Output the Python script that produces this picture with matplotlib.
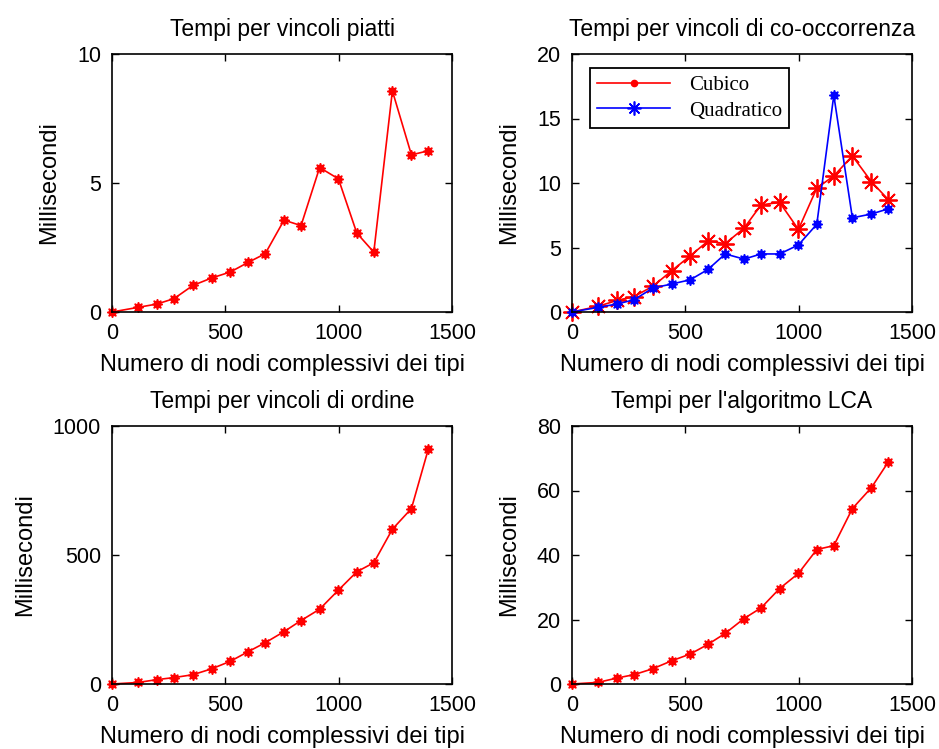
import matplotlib
matplotlib.use('Agg')
import matplotlib.pyplot as plt
from matplotlib.lines import Line2D

plt.rcParams['font.family'] = ['Liberation Sans', 'DejaVu Sans']

# x values (numero di nodi)
nodi = [0, 115, 199, 274, 357, 440, 522, 600, 676, 759, 834, 916, 999,
        1080, 1155, 1237, 1321, 1396]

piatti = [0, 0.18, 0.31, 0.52, 1.03, 1.32, 1.55, 1.92, 2.26, 3.56, 3.35,
          5.6, 5.16, 3.06, 2.32, 8.57, 6.09, 6.25]

cooc_cubico = [0, 0.44, 0.9, 1.2, 2.0, 3.2, 4.36, 5.5, 5.3, 6.5, 8.3, 8.5,
               6.4, 9.6, 10.55, 12.1, 10.1, 8.7]
cooc_quadratico = [0, 0.36, 0.62, 0.95, 1.86, 2.17, 2.5, 3.3, 4.5, 4.1, 4.5,
                   4.5, 5.2, 6.8, 16.8, 7.3, 7.6, 8.0]

ordine = [0, 6, 17, 25, 36, 59, 88, 125, 160, 203, 246, 290, 364, 435, 470,
          600, 680, 912]

lca = [0, 0.5, 1.86, 2.9, 4.75, 7.2, 9.3, 12.3, 15.7, 20.3, 23.6, 29.6, 34.3,
       41.7, 42.9, 54.4, 60.9, 68.9]

W, H = 939, 749
fig = plt.figure(figsize=(W / 100, H / 100), dpi=100)


def make_ax(x0, y0, x1, y1):
    # pixel box -> figure fraction
    return fig.add_axes([x0 / W, 1 - y1 / H, (x1 - x0) / W, (y1 - y0) / H])


ax1 = make_ax(112, 54, 452, 312)
ax2 = make_ax(572, 54, 912, 312)
ax3 = make_ax(112, 426, 452, 684)
ax4 = make_ax(572, 426, 912, 684)

small_mk = dict(marker=(8, 1, 0), markersize=7.5, linewidth=1.2)
title_kw = dict(fontsize=16.5, pad=13)

ax1.plot(nodi, piatti, color='#ff0000', **small_mk)
ax1.set_ylim(0, 10)
ax1.set_yticks([0, 5, 10])
ax1.set_title('Tempi per vincoli piatti', **title_kw)

ax2.plot(nodi, cooc_cubico, color='#ff0000', marker=(8, 2, 0), markersize=13,
         markeredgewidth=1.3, linewidth=1.2)
ax2.plot(nodi, cooc_quadratico, color='#0000ff', **small_mk)
ax2.set_ylim(0, 20)
ax2.set_yticks([0, 5, 10, 15, 20])
ax2.set_title('Tempi per vincoli di co-occorrenza', **title_kw)
handles = [Line2D([], [], color='#ff0000', marker='.', markersize=9, linewidth=1.2),
           Line2D([], [], color='#0000ff', marker=(8, 2, 0), markersize=10,
                  markeredgewidth=1.2, linewidth=1.2)]
leg = ax2.legend(handles, ['Cubico', 'Quadratico'], loc='upper left',
                 bbox_to_anchor=(0.053, 0.946), fancybox=False, framealpha=1,
                 edgecolor='black', prop={'family': 'Liberation Serif', 'size': 15},
                 handlelength=3.5, borderpad=0.35, labelspacing=0.3,
                 handletextpad=0.9, borderaxespad=0)
leg.get_frame().set_linewidth(1.3)

ax3.plot(nodi, ordine, color='#ff0000', **small_mk)
ax3.set_ylim(0, 1000)
ax3.set_yticks([0, 500, 1000])
ax3.set_title('Tempi per vincoli di ordine', **title_kw)

ax4.plot(nodi, lca, color='#ff0000', **small_mk)
ax4.set_ylim(0, 80)
ax4.set_yticks([0, 20, 40, 60, 80])
ax4.set_title("Tempi per l'algoritmo LCA", **title_kw)

for ax in (ax1, ax2, ax3, ax4):
    ax.set_xlim(0, 1500)
    ax.set_xticks([0, 500, 1000, 1500])
    ax.tick_params(direction='in', top=True, right=True, labelsize=15.5,
                   length=5, width=1, pad=8)
    for sp in ax.spines.values():
        sp.set_linewidth(1.2)
    ax.set_xlabel('Numero di nodi complessivi dei tipi', fontsize=17, labelpad=7)
    ax.set_ylabel('Millisecondi', fontsize=17, labelpad=12)
    for line in ax.get_lines():
        line.set_clip_on(False)

fig.savefig('out.png', dpi=100)
